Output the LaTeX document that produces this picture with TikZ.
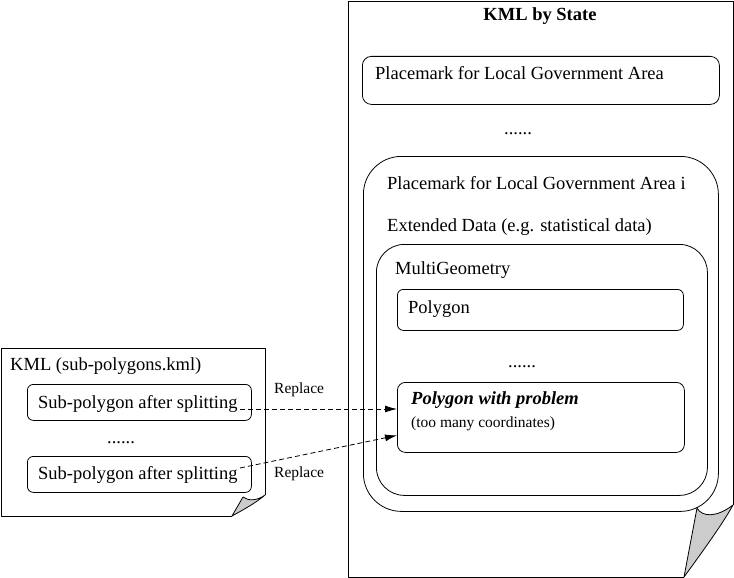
\documentclass[tikz,border=0pt]{standalone}
\usepackage{fontspec}
\setmainfont{Liberation Serif}
\usetikzlibrary{arrows.meta}
\begin{document}
\begin{tikzpicture}[x=1pt,y=-1pt,
  line/.style={draw=black, line width=0.8pt, line join=round},
  curl/.style={line, fill=gray!40},
  rbox/.style={line, rectangle, rounded corners=#1, anchor=north west, inner sep=0pt},
  rbox/.default=6pt,
  lbl/.style={anchor=base west, inner sep=0pt, font=\fontsize{18.5}{22}\selectfont},
  sml/.style={anchor=base west, inner sep=0pt, font=\fontsize{15.5}{18}\selectfont},
  conn/.style={draw=black, line width=0.8pt, dash pattern=on 5pt off 3pt, -{Latex[length=12pt,width=7pt]}}]
\useasboundingbox (0,0) rectangle (734,578);

% big document with curled corner
\draw[line] (684,577) -- (348,577) -- (348,1) -- (733,1) -- (733,505);
\draw[curl] (733,505) .. controls (722,525) and (700,555) .. (684,577)
  -- (697,508) .. controls (702,517) and (716,518) .. (733,505) -- cycle;

% small document with curled corner
\draw[line] (232,516) -- (1,516) -- (1,348) -- (265,348) -- (265,495);
\draw[curl] (265,495) .. controls (256,503) and (241,511) .. (232,516)
  -- (243,497) .. controls (248,501) and (257,501) .. (265,495) -- cycle;

% boxes
\node[rbox=9pt, minimum width=357pt, minimum height=48pt] (pm1) at (362,56) {};
\node[rbox=38pt, minimum width=355pt, minimum height=355pt] (pmi) at (363,156) {};
\node[rbox=28pt, minimum width=331pt, minimum height=251pt] (mg) at (376,244) {};
\node[rbox=6pt, minimum width=286pt, minimum height=41pt] (poly) at (397,289) {};
\node[rbox=8pt, minimum width=287pt, minimum height=70pt] (pbox) at (397,382) {};
\node[rbox=6pt, minimum width=224pt, minimum height=36pt] (sp1) at (27,384) {};
\node[rbox=6pt, minimum width=224pt, minimum height=36pt] (sp2) at (27,456) {};

% texts
\node[lbl, anchor=base, font=\fontsize{18.5}{22}\selectfont\bfseries] (title) at (540,21) {KML by State};
\node[lbl] (t1) at (375,80) {Placemark for Local Government Area};
\node[lbl, anchor=base] (d1) at (518,135) {......};
\node[lbl] (t2) at (387,189) {Placemark for Local Government Area i};
\node[lbl] (t3) at (387,231) {Extended Data (e.g. statistical data)};
\node[lbl] (t4) at (395,274) {MultiGeometry};
\node[lbl] (t5) at (408,313) {Polygon};
\node[lbl, anchor=base] (d2) at (522,367) {......};
\node[lbl, font=\fontsize{18.5}{22}\selectfont\bfseries\itshape] (t6) at (411,404) {Polygon with problem};
\node[sml] (t7) at (411,427) {(too many coordinates)};
\node[lbl] (t8) at (10,370) {KML (sub-polygons.kml)};
\node[lbl] (t9) at (38,408) {Sub-polygon after splitting};
\node[lbl, anchor=base] (d3) at (121,443) {......};
\node[lbl] (t10) at (38,479) {Sub-polygon after splitting};
\node[sml] (r1) at (274,393) {Replace};
\node[sml] (r2) at (274,477) {Replace};

% connectors
\coordinate (s1) at (240,409);
\coordinate (s2) at (240,468);
\draw[conn] (s1) -- (pbox.west |- s1);
\draw[conn] (s2) -- ([yshift=-18pt]pbox.west);
\end{tikzpicture}
\end{document}
